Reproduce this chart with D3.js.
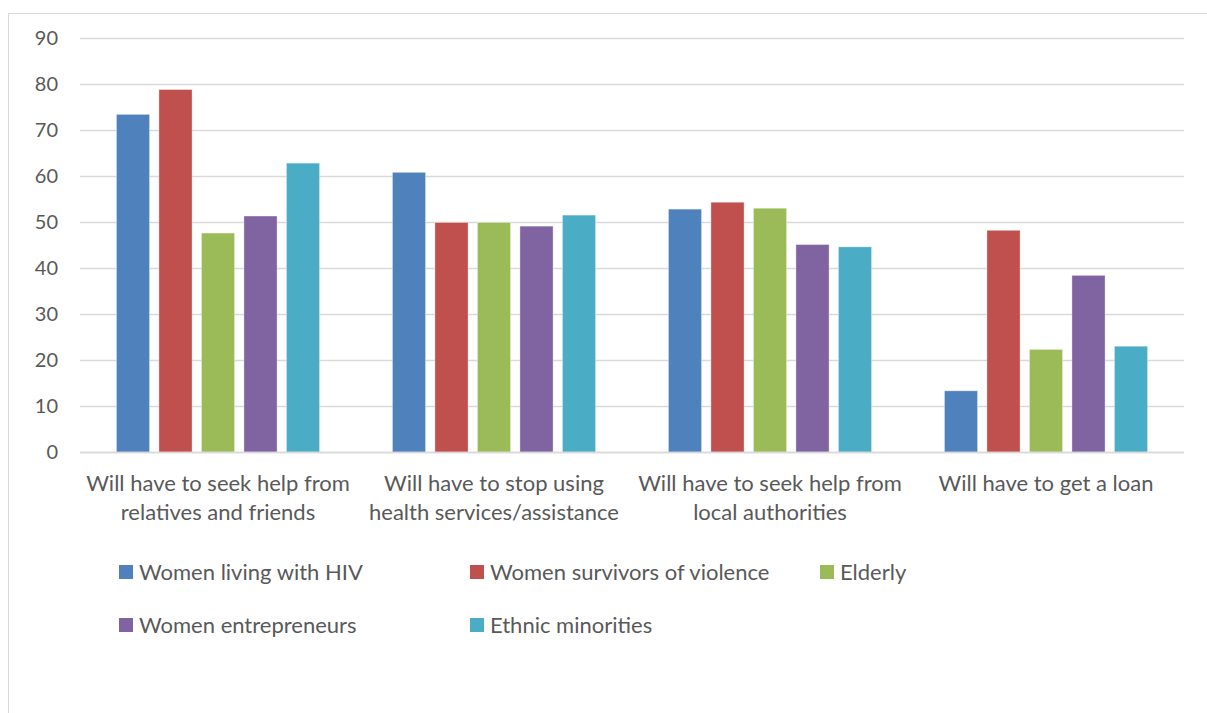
<!DOCTYPE html>
<html>
<head>
<meta charset="utf-8">
<script src="https://cdn.jsdelivr.net/npm/d3@7"></script>
<style>
  html, body { margin: 0; padding: 0; background: #fff; }
  svg { display: block; }
  text { font-family: Lato, "Open Sans", sans-serif; fill: #595959; }
</style>
</head>
<body>
<svg id="chart" width="1207" height="713"></svg>
<script>
// Categories (x axis), two-line labels
const categories = [
  "Will have to seek help from relatives and friends",
  "Will have to stop using health services/assistance",
  "Will have to seek help from local authorities",
  "Will have to get a loan"
];
const categoryLines = [
  ["Will have to seek help from", "relatives and friends"],
  ["Will have to stop using", "health services/assistance"],
  ["Will have to seek help from", "local authorities"],
  ["Will have to get a loan"]
];

// Series names and colours
const seriesNames = [
  "Women living with HIV",
  "Women survivors of violence",
  "Elderly",
  "Women entrepreneurs",
  "Ethnic minorities"
];
const seriesColors = ["#4F81BD", "#C0504D", "#9BBB59", "#8064A2", "#4BACC6"];

// Values per series, one per category
const hivValues        = [73.4, 60.8, 52.8, 13.3];
const violenceValues   = [78.8, 49.9, 54.3, 48.2];
const elderlyValues    = [47.6, 49.9, 53.0, 22.3];
const entrepreneurVals = [51.3, 49.1, 45.1, 38.4];
const ethnicValues     = [62.8, 51.5, 44.6, 23.0];
const seriesValues = [hivValues, violenceValues, elderlyValues, entrepreneurVals, ethnicValues];

const yTicks = [0, 10, 20, 30, 40, 50, 60, 70, 80, 90];

const svg = d3.select("#chart");

// Outer frame of the chart area
svg.append("path")
  .attr("d", "M8.5,713 V13.5 H1207")
  .attr("fill", "none")
  .attr("stroke", "#d9d9d9")
  .attr("stroke-width", 1);

const plot = { left: 80, right: 1184, top: 38, bottom: 452 };

const y = d3.scaleLinear().domain([0, 90]).range([plot.bottom, plot.top]);
const x0 = d3.scaleBand().domain(categories).range([plot.left, plot.right]).padding(0);
const x1 = d3.scaleBand().domain(seriesNames).range([0, x0.bandwidth()])
  .paddingInner(0.22).paddingOuter(0.857);

// Horizontal gridlines
svg.append("g").selectAll("line")
  .data(yTicks)
  .join("line")
  .attr("x1", plot.left).attr("x2", plot.right)
  .attr("y1", d => Math.round(y(d)) + 0.5).attr("y2", d => Math.round(y(d)) + 0.5)
  .attr("stroke", "#d9d9d9")
  .attr("stroke-width", 1.5);

// Y axis labels
const yAxis = d3.axisLeft(y).tickValues(yTicks).tickSize(0).tickPadding(0);
const yg = svg.append("g").attr("transform", `translate(${58},0)`).call(yAxis);
yg.select(".domain").remove();
yg.selectAll("text")
  .attr("font-size", 20)
  .attr("fill", "#595959")
  .style("font-family", "Lato, 'Open Sans', sans-serif");

// Bars
const groups = svg.append("g").selectAll("g")
  .data(categories)
  .join("g")
  .attr("transform", d => `translate(${x0(d)},0)`);

groups.selectAll("rect")
  .data((c, ci) => seriesNames.map((s, si) => ({ s, v: seriesValues[si][ci], color: seriesColors[si] })))
  .join("rect")
  .attr("x", d => x1(d.s))
  .attr("y", d => y(d.v))
  .attr("width", x1.bandwidth())
  .attr("height", d => y(0) - y(d.v))
  .attr("fill", d => d.color)
  .attr("stroke", "#ffffff")
  .attr("stroke-opacity", 0.45)
  .attr("stroke-width", 0.8);

// Baseline
svg.append("line")
  .attr("x1", plot.left).attr("x2", plot.right)
  .attr("y1", plot.bottom + 0.5).attr("y2", plot.bottom + 0.5)
  .attr("stroke", "#d9d9d9").attr("stroke-width", 1.5);

// Category labels
const xl = svg.append("g").selectAll("text")
  .data(categories)
  .join("text")
  .attr("x", d => x0(d) + x0.bandwidth() / 2)
  .attr("y", 491)
  .attr("text-anchor", "middle")
  .attr("font-size", 22);
xl.selectAll("tspan")
  .data((d, i) => categoryLines[i])
  .join("tspan")
  .attr("x", function () { return d3.select(this.parentNode).attr("x"); })
  .attr("dy", (d, i) => i === 0 ? 0 : 28.5)
  .text(d => d);

// Legend
const legendPos = [
  { x: 119, y: 572 }, { x: 470, y: 572 }, { x: 820, y: 572 },
  { x: 119, y: 625 }, { x: 470, y: 625 }
];
const legend = svg.append("g").selectAll("g")
  .data(seriesNames)
  .join("g")
  .attr("transform", (d, i) => `translate(${legendPos[i].x},${legendPos[i].y})`);
legend.append("rect")
  .attr("x", 0).attr("y", -7).attr("width", 14).attr("height", 14)
  .attr("fill", (d, i) => seriesColors[i]);
legend.append("text")
  .attr("x", 20).attr("y", 0).attr("dy", "0.35em")
  .attr("font-size", 22)
  .text(d => d);
</script>
</body>
</html>
